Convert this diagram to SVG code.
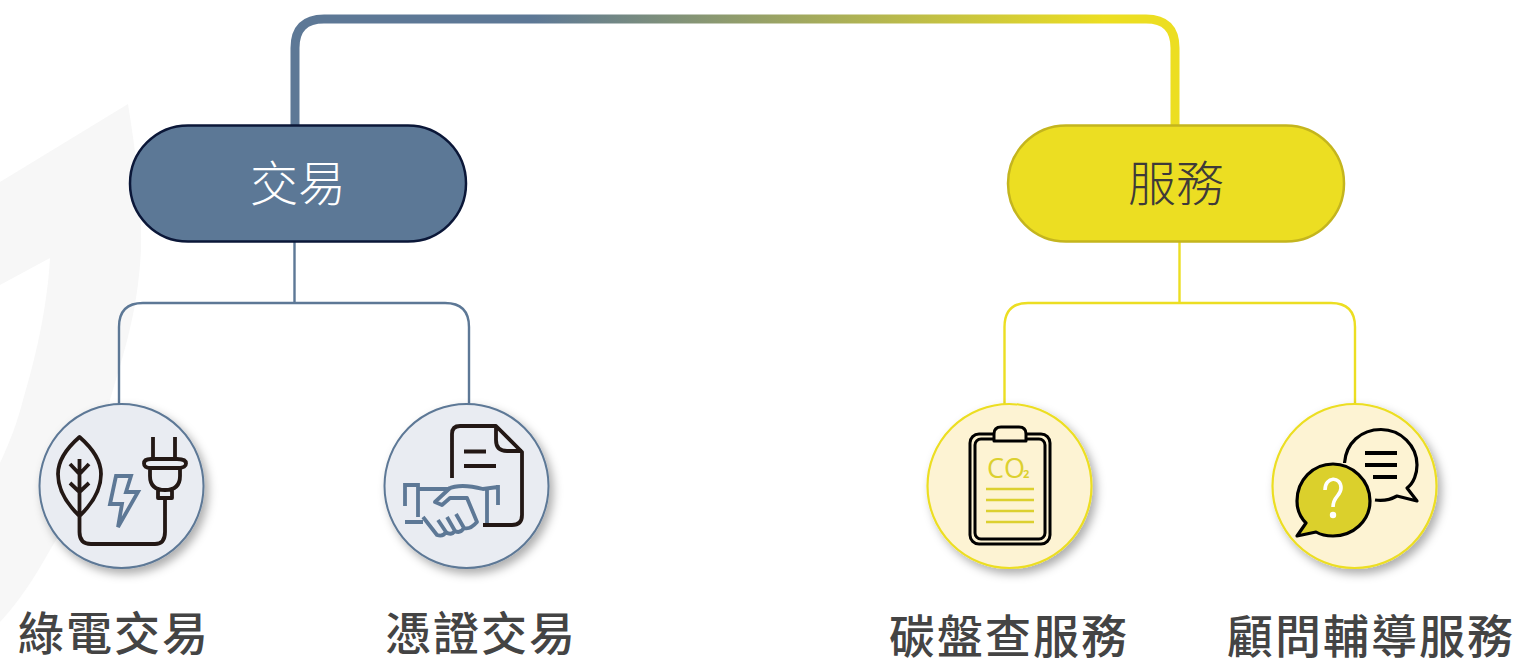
<svg xmlns="http://www.w3.org/2000/svg" width="1520" height="659" viewBox="0 0 1520 659">
<style>
.big{font-family:"Noto Sans CJK TC","Noto Sans CJK SC",sans-serif;font-size:48px;font-weight:300;text-anchor:middle}
.lab{font-family:"Noto Sans CJK TC","Noto Sans CJK SC",sans-serif;font-size:46px;font-weight:500;fill:#444;text-anchor:middle;letter-spacing:2px}
.dk{fill:none;stroke:#231815;stroke-width:3.800;stroke-linejoin:round;stroke-linecap:butt}
.bl{fill:none;stroke:#5d7896;stroke-width:3.800;stroke-linejoin:miter}
.kb{fill:none;stroke:#000;stroke-width:3;stroke-linejoin:round}
.yl{stroke:#dcd02f;stroke-width:2.600;fill:none}
.cb{fill:#e9ecf2;stroke:#5d7896;stroke-width:2;filter:url(#sh)}
.cy{fill:#fdf3d3;stroke:#ecde22;stroke-width:2.200;filter:url(#sh)}
.lb{fill:none;stroke:#5d7896;stroke-width:2.400}
.ly{fill:none;stroke:#ecde22;stroke-width:2.400}
</style>
<defs>
<linearGradient id="g" gradientUnits="userSpaceOnUse" x1="295" y1="0" x2="1175" y2="0">
<stop offset="0.27" stop-color="#5d7896"/><stop offset="0.92" stop-color="#ecde22"/>
</linearGradient>
<filter id="sh" x="-20%" y="-20%" width="150%" height="150%"><feDropShadow dx="4" dy="5" stdDeviation="5" flood-color="#000" flood-opacity="0.32"/></filter>
</defs>
<path d="M0 182 L128 104 C137 160 142 205 141 250 C138 310 125 350 110 400 C95 460 75 510 50 550 C35 577 18 603 0 622 L0 463 C10 442 18 420 23 400 C35 360 47 310 50 258 L0 285 Z" fill="#f7f7f7"/>
<g id="connectors">
<path d="M295 125 V48 Q295 19 324 19 H1146 Q1175 19 1175 48 V125" fill="none" stroke="url(#g)" stroke-width="9"/>
<path class="lb" d="M294.500 242 V303 M119 404 V327 Q119 303 143 303 H445 Q469 303 469 327 V404"/>
<path class="ly" d="M1179.500 242 V303 M1004.500 404 V327 Q1004.500 303 1028 303 H1331 Q1355 303 1355 327 V404"/>
</g>
<g id="node-trade">
<rect x="130" y="125.500" width="336" height="116" rx="58" fill="#5c7896" stroke="#0b1738" stroke-width="2.500"/>
<text class="big" x="298" y="201" fill="#fff">交易</text>
</g>
<g id="node-service">
<rect x="1008" y="125.500" width="336" height="116" rx="58" fill="#ecde22" stroke="#c4b51e" stroke-width="2.500"/>
<text class="big" x="1176" y="201" fill="#3e3a39">服務</text>
</g>
<g id="node-green">
<circle class="cb" cx="121.500" cy="486" r="82"/>
<path class="dk" d="M79.500 437 C68 447 58 459 58 474 C58 491 69 506 79.500 516 C90 506 101 491 101 474 C101 459 91 447 79.500 437 Z M79.500 459 V532 Q79.500 544 91 544 H155 Q165 544 165 532 V500 M70 464 L79.500 474 L89 464 M70 483 L79.500 492 L89 483"/>
<path class="dk" d="M153 437 V459 M175 437 V459 M151 459 H177 Q186 459 186 463.500 Q186 468 177 468 H151 Q144 468 144 463.500 Q144 459 151 459 Z M150 468 V476 Q150 490 165 490 Q180 490 180 476 V468 M158 490 V498 H172 V490"/>
<path class="bl" d="M116 476 H131 L126 492 H138 L118 527 L122 504 H110 Z"/>
<text class="lab" x="114" y="650">綠電交易</text>
</g>
<g id="node-cert">
<circle class="cb" cx="466.500" cy="486" r="82"/>
<path class="dk" d="M452 478 V434 Q452 426 460 426 H496 L522 452 V515 Q522 525 512 525 H483 M496 426 V440 Q496 451 507 451 H522 M464 451.500 H486 M464 466 H496" stroke-linecap="round"/>
<path d="M405 506 V485 H418 V517 M405 522 H423 M418 489 H448 Q460 483 483 489 L498 487 M498 485 V505 M487 488 V523" fill="none" stroke="#5d7896" stroke-width="3.800"/>
<path d="M423 517 L437 535 Q443 537 446 532 Q451 536 455 531 Q460 534 464 528 Q470 530 477 522 L467 498 H450 L442 505 L435 502 L450 488 M446 532 L438 520 M455 531 L447 517 M464 528 L456 514" fill="none" stroke="#5d7896" stroke-width="3.800" stroke-linejoin="round"/>
<text class="lab" x="481" y="650">憑證交易</text>
</g>
<g id="node-carbon">
<circle class="cy" cx="1009.500" cy="486" r="82"/>
<rect x="970" y="434" width="80" height="110" rx="9" class="kb"/>
<rect x="975" y="439" width="70" height="100" rx="6" class="kb"/>
<path d="M994 441 V434 Q994 427 1001 427 H1019 Q1026 427 1026 434 V441 Z" fill="#fdf3d3" stroke="#000" stroke-width="3" stroke-linejoin="round"/>
<text x="987" y="478" font-family="'Open Sans',sans-serif" font-size="27" fill="#dcd02f">CO</text>
<text x="1023" y="478" font-family="'Open Sans',sans-serif" font-size="11" font-weight="700" fill="#dcd02f">2</text>
<path class="yl" d="M986 489 H1034 M986 500 H1034 M986 511 H1034 M986 522 H1034"/>
<text class="lab" x="1009" y="653">碳盤查服務</text>
</g>
<g id="node-consult">
<circle class="cy" cx="1354.500" cy="486" r="82"/>
<path d="M1344.500 463 C1346 443 1361 429.500 1381 429.500 C1401 429.500 1417 446 1417 465 C1417 473 1414 483 1407 488 L1417 501 L1397 496 C1390 500 1382 501 1375 500" fill="#fdf3d3" stroke="#000" stroke-width="3.200" stroke-linejoin="round"/>
<path d="M1365 453 H1397 M1365 465 H1397 M1373 477 H1397" stroke="#000" stroke-width="4" fill="none"/>
<path d="M1333 464 C1352 464 1370 480 1370 501 C1370 521 1353 536 1333 536 C1327 536 1321 535 1316 532 L1297 536 L1306 523 C1300 517 1297 509 1297 501 C1297 480 1313 464 1333 464 Z" fill="#dbd02c" stroke="#000" stroke-width="3.200" stroke-linejoin="round"/>
<path d="M1325 490 C1325 476 1341 476 1341 488 C1341 496 1333 496 1333 507" fill="none" stroke="#fff" stroke-width="3.600"/>
<circle cx="1333" cy="515" r="3.200" fill="#fff"/>
<text class="lab" x="1371" y="653">顧問輔導服務</text>
</g>
</svg>
